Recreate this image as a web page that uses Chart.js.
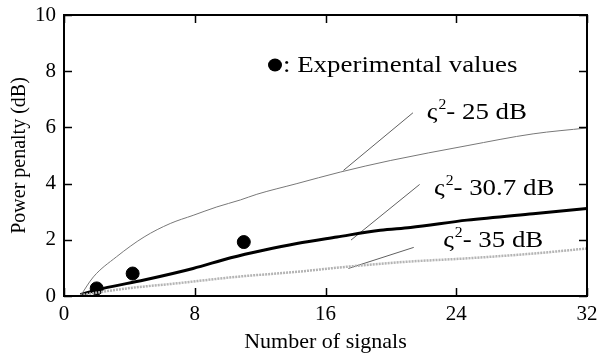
<!DOCTYPE html>
<html><head><meta charset="utf-8">
<script src="https://cdn.jsdelivr.net/npm/chart.js@4/dist/chart.umd.min.js"></script>
<style>html,body{margin:0;padding:0;background:#fff}canvas{display:block}</style>
</head><body>
<canvas id="c" width="599" height="355"></canvas>
<script>
// ---- data ----
const xTicks = [0, 8, 16, 24, 32];
const yTicks = [0, 2, 4, 6, 8, 10];

const x25 = [1, 1.8, 3.2, 4.9, 6.5, 7.9, 9.35, 10.8, 11.8, 14.25, 16.9, 19.96, 24.66, 28.7, 32];
const y25 = [0, 0.68, 1.39, 2.1, 2.58, 2.87, 3.17, 3.42, 3.62, 4.0, 4.41, 4.82, 5.35, 5.77, 5.98];

const x307 = [1, 2.4, 4.9, 7.9, 10.2, 12.2, 14.25, 16.7, 19.35, 21.2, 24.66, 28.7, 32];
const y307 = [0.05, 0.27, 0.57, 0.98, 1.36, 1.63, 1.87, 2.1, 2.34, 2.44, 2.7, 2.93, 3.11];

const x35 = [1, 3.84, 6.9, 10.5, 14.25, 17.3, 21, 24.66, 28.7, 32];
const y35 = [0.03, 0.27, 0.45, 0.68, 0.86, 1.04, 1.22, 1.34, 1.51, 1.69];

const xExp = [2, 4.2, 11];
const yExp = [0.27, 0.8, 1.92];

// leader lines from labels to curves
const lead25x = [17.1, 21.35],  lead25y = [4.47, 6.52];
const lead307x = [17.56, 21.76], lead307y = [1.99, 3.97];
const lead35x = [17.4, 21.4],   lead35y = [0.98, 1.73];

const labels = ["ς", "2", "- 25 dB", "- 30.7 dB", "- 35 dB", ": Experimental values"];

const pts = (xs, ys) => xs.map((x, i) => ({x, y: ys[i]}));
const FONT = "'Liberation Serif', 'Times New Roman', serif";

const lineDs = (data, color, width, extra) => Object.assign({
  type: 'line', data, borderColor: color, borderWidth: width, pointRadius: 0,
  fill: false, tension: 0.3, cubicInterpolationMode: 'monotone'
}, extra || {});

const annot = {
  id: 'annot',
  afterDatasetsDraw(chart) {
    const {ctx, scales: {x, y}, chartArea: a} = chart;
    ctx.save();
    // frame
    ctx.strokeStyle = '#000'; ctx.lineWidth = 2;
    ctx.strokeRect(a.left, a.top, a.right - a.left, a.bottom - a.top);
    // inward ticks
    ctx.lineWidth = 1.5;
    xTicks.forEach(v => {
      const px = Math.round(x.getPixelForValue(v)) + 0.5;
      ctx.beginPath(); ctx.moveTo(px, a.bottom); ctx.lineTo(px, a.bottom - 8); ctx.stroke();
      ctx.beginPath(); ctx.moveTo(px, a.top); ctx.lineTo(px, a.top + 8); ctx.stroke();
    });
    yTicks.forEach(v => {
      const py = Math.round(y.getPixelForValue(v)) + 0.5;
      ctx.beginPath(); ctx.moveTo(a.left, py); ctx.lineTo(a.left + 8, py); ctx.stroke();
      ctx.beginPath(); ctx.moveTo(a.right, py); ctx.lineTo(a.right - 8, py); ctx.stroke();
    });
    // stretched text helper (reference text is horizontally stretched)
    ctx.fillStyle = '#000';
    ctx.textBaseline = 'alphabetic';
    ctx.textAlign = 'left';
    const SX = 1.12;
    const txt = (s, px, py, size) => {
      ctx.font = size + 'px ' + FONT;
      ctx.save(); ctx.translate(px, py); ctx.scale(SX, 1); ctx.fillText(s, 0, 0); ctx.restore();
      return ctx.measureText(s).width * SX;
    };
    const sigmaLabel = (dx, dy, rest) => {
      let px = x.getPixelForValue(dx), py = y.getPixelForValue(dy);
      px += txt(labels[0], px, py, 24) + 1;
      px += txt(labels[1], px, py - 10, 14);
      txt(rest, px, py, 24);
    };
    sigmaLabel(22.2, 6.3, labels[2]);
    sigmaLabel(22.64, 3.59, labels[3]);
    sigmaLabel(23.2, 1.74, labels[4]);
    // experimental key
    const dx = x.getPixelForValue(12.91), dy = y.getPixelForValue(8.22);
    ctx.beginPath(); ctx.ellipse(dx, dy, 7, 6.5, 0, 0, Math.PI * 2); ctx.fill();
    txt(labels[5], x.getPixelForValue(13.4), y.getPixelForValue(7.97), 24);
    ctx.restore();
  }
};

new Chart(document.getElementById('c'), {
  data: {
    datasets: [
      lineDs(pts(x25, y25), '#787878', 1),
      lineDs(pts(x35, y35), '#b4b4b4', 2.5, {borderDash: [2, 1]}),
      lineDs(pts(x307, y307), '#000', 3),
      lineDs(pts(lead25x, lead25y), '#606060', 1, {tension: 0}),
      lineDs(pts(lead307x, lead307y), '#606060', 1, {tension: 0}),
      lineDs(pts(lead35x, lead35y), '#606060', 1, {tension: 0}),
      {type: 'scatter', data: pts(xExp, yExp), backgroundColor: '#000', borderColor: '#000',
       pointRadius: 6.5, pointHoverRadius: 6.5}
    ]
  },
  options: {
    responsive: false, animation: false,
    layout: {padding: {left: 0, right: 12, top: 15, bottom: 0}},
    plugins: {legend: {display: false}, tooltip: {enabled: false}},
    scales: {
      x: {
        type: 'linear', min: 0, max: 32,
        afterBuildTicks: s => { s.ticks = xTicks.map(v => ({value: v})); },
        afterFit: s => { s.height = 59; s.paddingLeft = 0; s.paddingRight = 0; },
        grid: {display: false, drawTicks: false},
        border: {display: false},
        ticks: {color: '#000', font: {family: FONT, size: 21}, padding: 6, maxRotation: 0},
        title: {display: true, text: 'Number of signals', color: '#000',
                font: {family: FONT, size: 22}, padding: {top: 1, bottom: 0}}
      },
      y: {
        type: 'linear', min: 0, max: 10,
        afterBuildTicks: s => { s.ticks = yTicks.map(v => ({value: v})); },
        afterFit: s => { s.width = 64; s.paddingTop = 0; s.paddingBottom = 0; },
        grid: {display: false, drawTicks: false},
        border: {display: false},
        ticks: {color: '#000', font: {family: FONT, size: 21}, padding: 8},
        title: {display: true, text: 'Power penalty (dB)', color: '#000',
                font: {family: FONT, size: 20}, padding: {top: 8, bottom: 0}}
      }
    }
  },
  plugins: [annot]
});
</script>
</body></html>
